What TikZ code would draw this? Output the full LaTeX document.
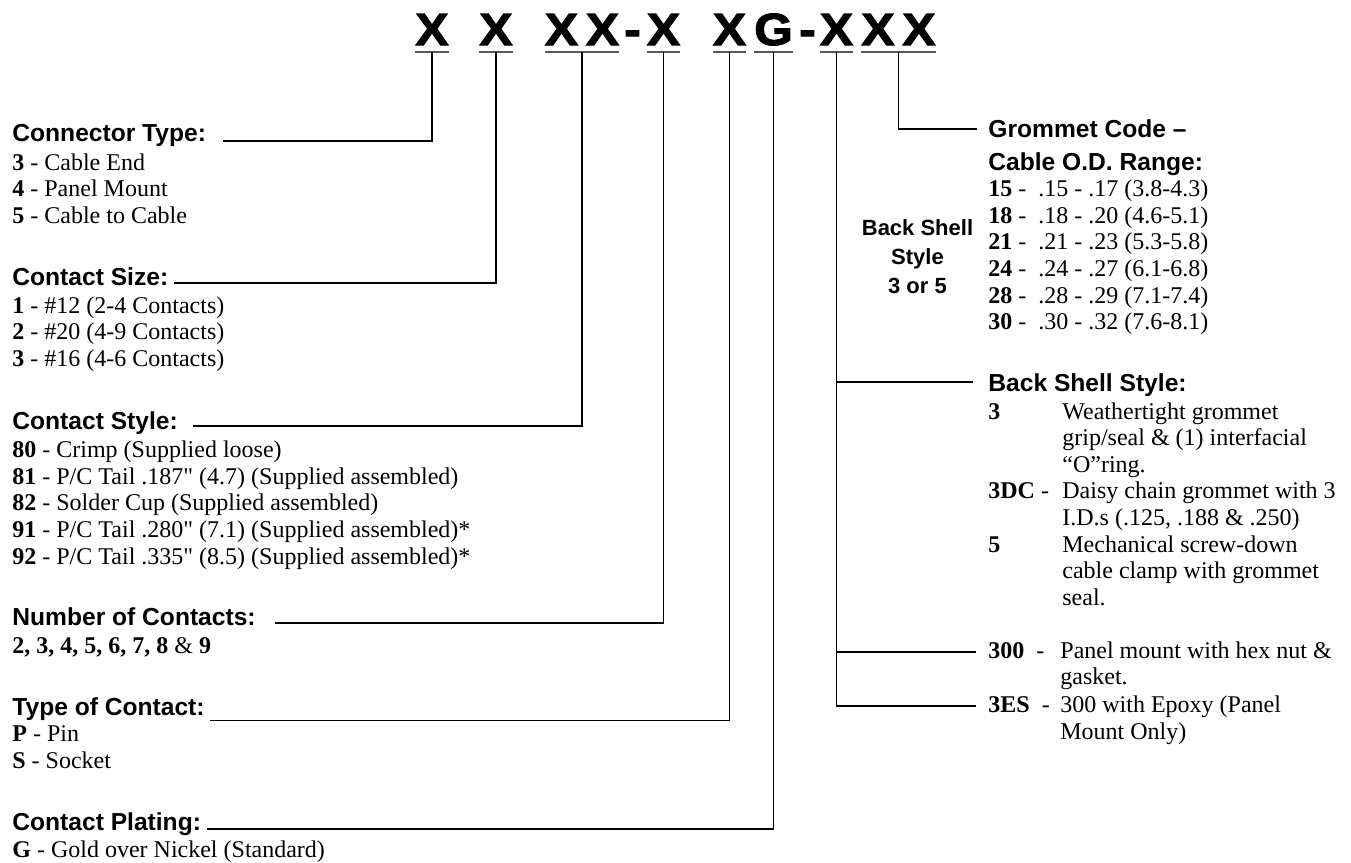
\documentclass[tikz,border=0pt]{standalone}
\usepackage{fontspec}
\setmainfont{Liberation Serif}[Ligatures=TeXOff]
\setsansfont{Liberation Sans}
\newfontfamily\codefont{Liberation Sans Bold}[FakeBold=2.5, FakeStretch=1.1]
\usepackage{tikz}
\newcommand{\optlist}[1]{\begin{tabular}[t]{@{}l@{}}#1\end{tabular}}
\newcommand{\optgrid}[2]{\begin{tabular}[t]{@{}p{#1}@{}l@{}}#2\end{tabular}}

\begin{document}
\begin{tikzpicture}[
    x=0.5pt, y=-0.5pt,
    code/.style={font=\codefont\fontsize{22.5}{26}\selectfont, inner xsep=0pt, inner ysep=3.5pt, text depth=0pt, anchor=base},
    head/.style={font=\sffamily\bfseries\fontsize{12.3}{16.5}\selectfont, inner sep=0pt, anchor=base west},
    items/.style={font=\fontsize{12}{13.3}\selectfont, inner sep=0pt, anchor=base west},
    note/.style={font=\sffamily\bfseries\fontsize{11}{14.5}\selectfont, inner sep=0pt, anchor=base},
    lead/.style={line width=0.8pt},
    uline/.style={line width=1pt, black!65}
]
\useasboundingbox (0,0) rectangle (1351,863);

% part number
\node[code] (g1) at (432,45) {X};
\node[code] (g2) at (496,45) {X};
\node[code] (g3) at (582,45) {X\kern4pt X};
\node[code] (d1) at (632.5,45) {-};
\node[code] (g4) at (663.5,45) {X};
\node[code] (g5) at (729.5,45) {X};
\node[code] (g6) at (773.5,45) {G};
\node[code] (d2) at (807.5,45) {-};
\node[code] (g7) at (836.5,45) {X};
\node[code] (g8) at (898.5,45) {X\kern4pt X};
\draw[uline] (g1.south west) -- (g1.south east);
\draw[uline] (g2.south west) -- (g2.south east);
\draw[uline] (g3.south west) -- (g3.south east);
\draw[uline] (g4.south west) -- (g4.south east);
\draw[uline] (g5.south west) -- (g5.south east);
\draw[uline] (g6.south west) -- (g6.south east);
\draw[uline] (g7.south west) -- (g7.south east);
\draw[uline] (g8.south west) -- (g8.south east);

% left column
\node[head] (ctype) at (12,141.7) {Connector Type:};
\node[items] (ctypeL) at ([yshift=-14.15pt]ctype.base west) {\optlist{\textbf{3} - Cable End\\ \textbf{4} - Panel Mount\\ \textbf{5} - Cable to Cable}};

\node[head] (csize) at (12,285) {Contact Size:};
\node[items] (csizeL) at ([yshift=-14.15pt]csize.base west) {\optlist{\textbf{1} - \#12 (2-4 Contacts)\\ \textbf{2} - \#20 (4-9 Contacts)\\ \textbf{3} - \#16 (4-6 Contacts)}};

\node[head] (cstyle) at (12,429.3) {Contact Style:};
\node[items] (cstyleL) at ([yshift=-14.2pt]cstyle.base west) {\optlist{\textbf{80} - Crimp (Supplied loose)\\ \textbf{81} - P/C Tail .187" (4.7) (Supplied assembled)\\ \textbf{82} - Solder Cup (Supplied assembled)\\ \textbf{91} - P/C Tail .280" (7.1) (Supplied assembled)*\\ \textbf{92} - P/C Tail .335" (8.5) (Supplied assembled)*}};

\node[head] (ncont) at (12,625) {Number of Contacts:};
\node[items] (ncontL) at ([yshift=-14.15pt]ncont.base west) {\textbf{2, 3, 4, 5, 6, 7, 8} \& \textbf{9}};

\node[head] (tcont) at (12,715) {Type of Contact:};
\node[items] (tcontL) at ([yshift=-13.35pt]tcont.base west) {\optlist{\textbf{P} - Pin\\ \textbf{S} - Socket}};

\node[head] (cplat) at (12,830.7) {Contact Plating:};
\node[items] (cplatL) at ([yshift=-13.5pt]cplat.base west) {\textbf{G} - Gold over Nickel (Standard)};

% right column
\node[head] (grom) at (988,137) {\optlist{Grommet Code –\\Cable O.D. Range:}};
\node[items] (gromL) at ([yshift=-29.85pt]grom.base west) {\optlist{\textbf{15} -\enspace.15 - .17 (3.8-4.3)\\ \textbf{18} -\enspace.18 - .20 (4.6-5.1)\\ \textbf{21} -\enspace.21 - .23 (5.3-5.8)\\ \textbf{24} -\enspace.24 - .27 (6.1-6.8)\\ \textbf{28} -\enspace.28 - .29 (7.1-7.4)\\ \textbf{30} -\enspace.30 - .32 (7.6-8.1)}};
\node[note] (bs35) at (917.5,235) {\begin{tabular}[t]{@{}c@{}}Back Shell\\Style\\3 or 5\end{tabular}};

\node[head] (bss) at (988,391.7) {Back Shell Style:};
\node[items] (bssL) at ([yshift=-13.65pt]bss.base west) {\optgrid{37pt}{\textbf{3} & Weathertight grommet\\ & grip/seal \& (1) interfacial\\ & “O”ring.\\ \textbf{3DC} - & Daisy chain grommet with 3\\ & I.D.s (.125, .188 \& .250)\\ \textbf{5} & Mechanical screw-down\\ & cable clamp with grommet\\ & seal.}};

\node[items] (p300) at (988,658.3) {\optgrid{36pt}{\textbf{300}~~- & Panel mount with hex nut \&\\ & gasket.}};
\node[items] (p3es) at (988,712.7) {\optgrid{36pt}{\textbf{3ES}~~- & 300 with Epoxy (Panel\\ & Mount Only)}};

% leaders
\draw[lead] (ctype.base east) ++(8.5pt,0.5pt) -| (g1.south);
\draw[lead] (csize.base east) ++(2.5pt,1.15pt) -| (g2.south);
\draw[lead] (cstyle.base east) ++(7.5pt,1.6pt) -| (g3.south);
\draw[lead] (ncont.base east) ++(9.5pt,1.1pt) -| (g4.south);
\draw[lead] (tcont.base east) ++(2.5pt,-2.8pt) -| (g5.south);
\draw[lead] (cplat.base east) ++(3pt,0.8pt) -| (g6.south);
\draw[lead] (g8.south) |- ([xshift=-5.5pt,yshift=4pt]grom.base west);
\draw[lead] (g7.south) |- ([xshift=-7.5pt,yshift=5pt]bss.base west);
\draw[lead] (g7.south) |- ([xshift=-6pt,yshift=3.3pt]p300.base west);
\draw[lead] (g7.south) |- ([xshift=-6pt,yshift=3.3pt]p3es.base west);
\end{tikzpicture}
\end{document}
